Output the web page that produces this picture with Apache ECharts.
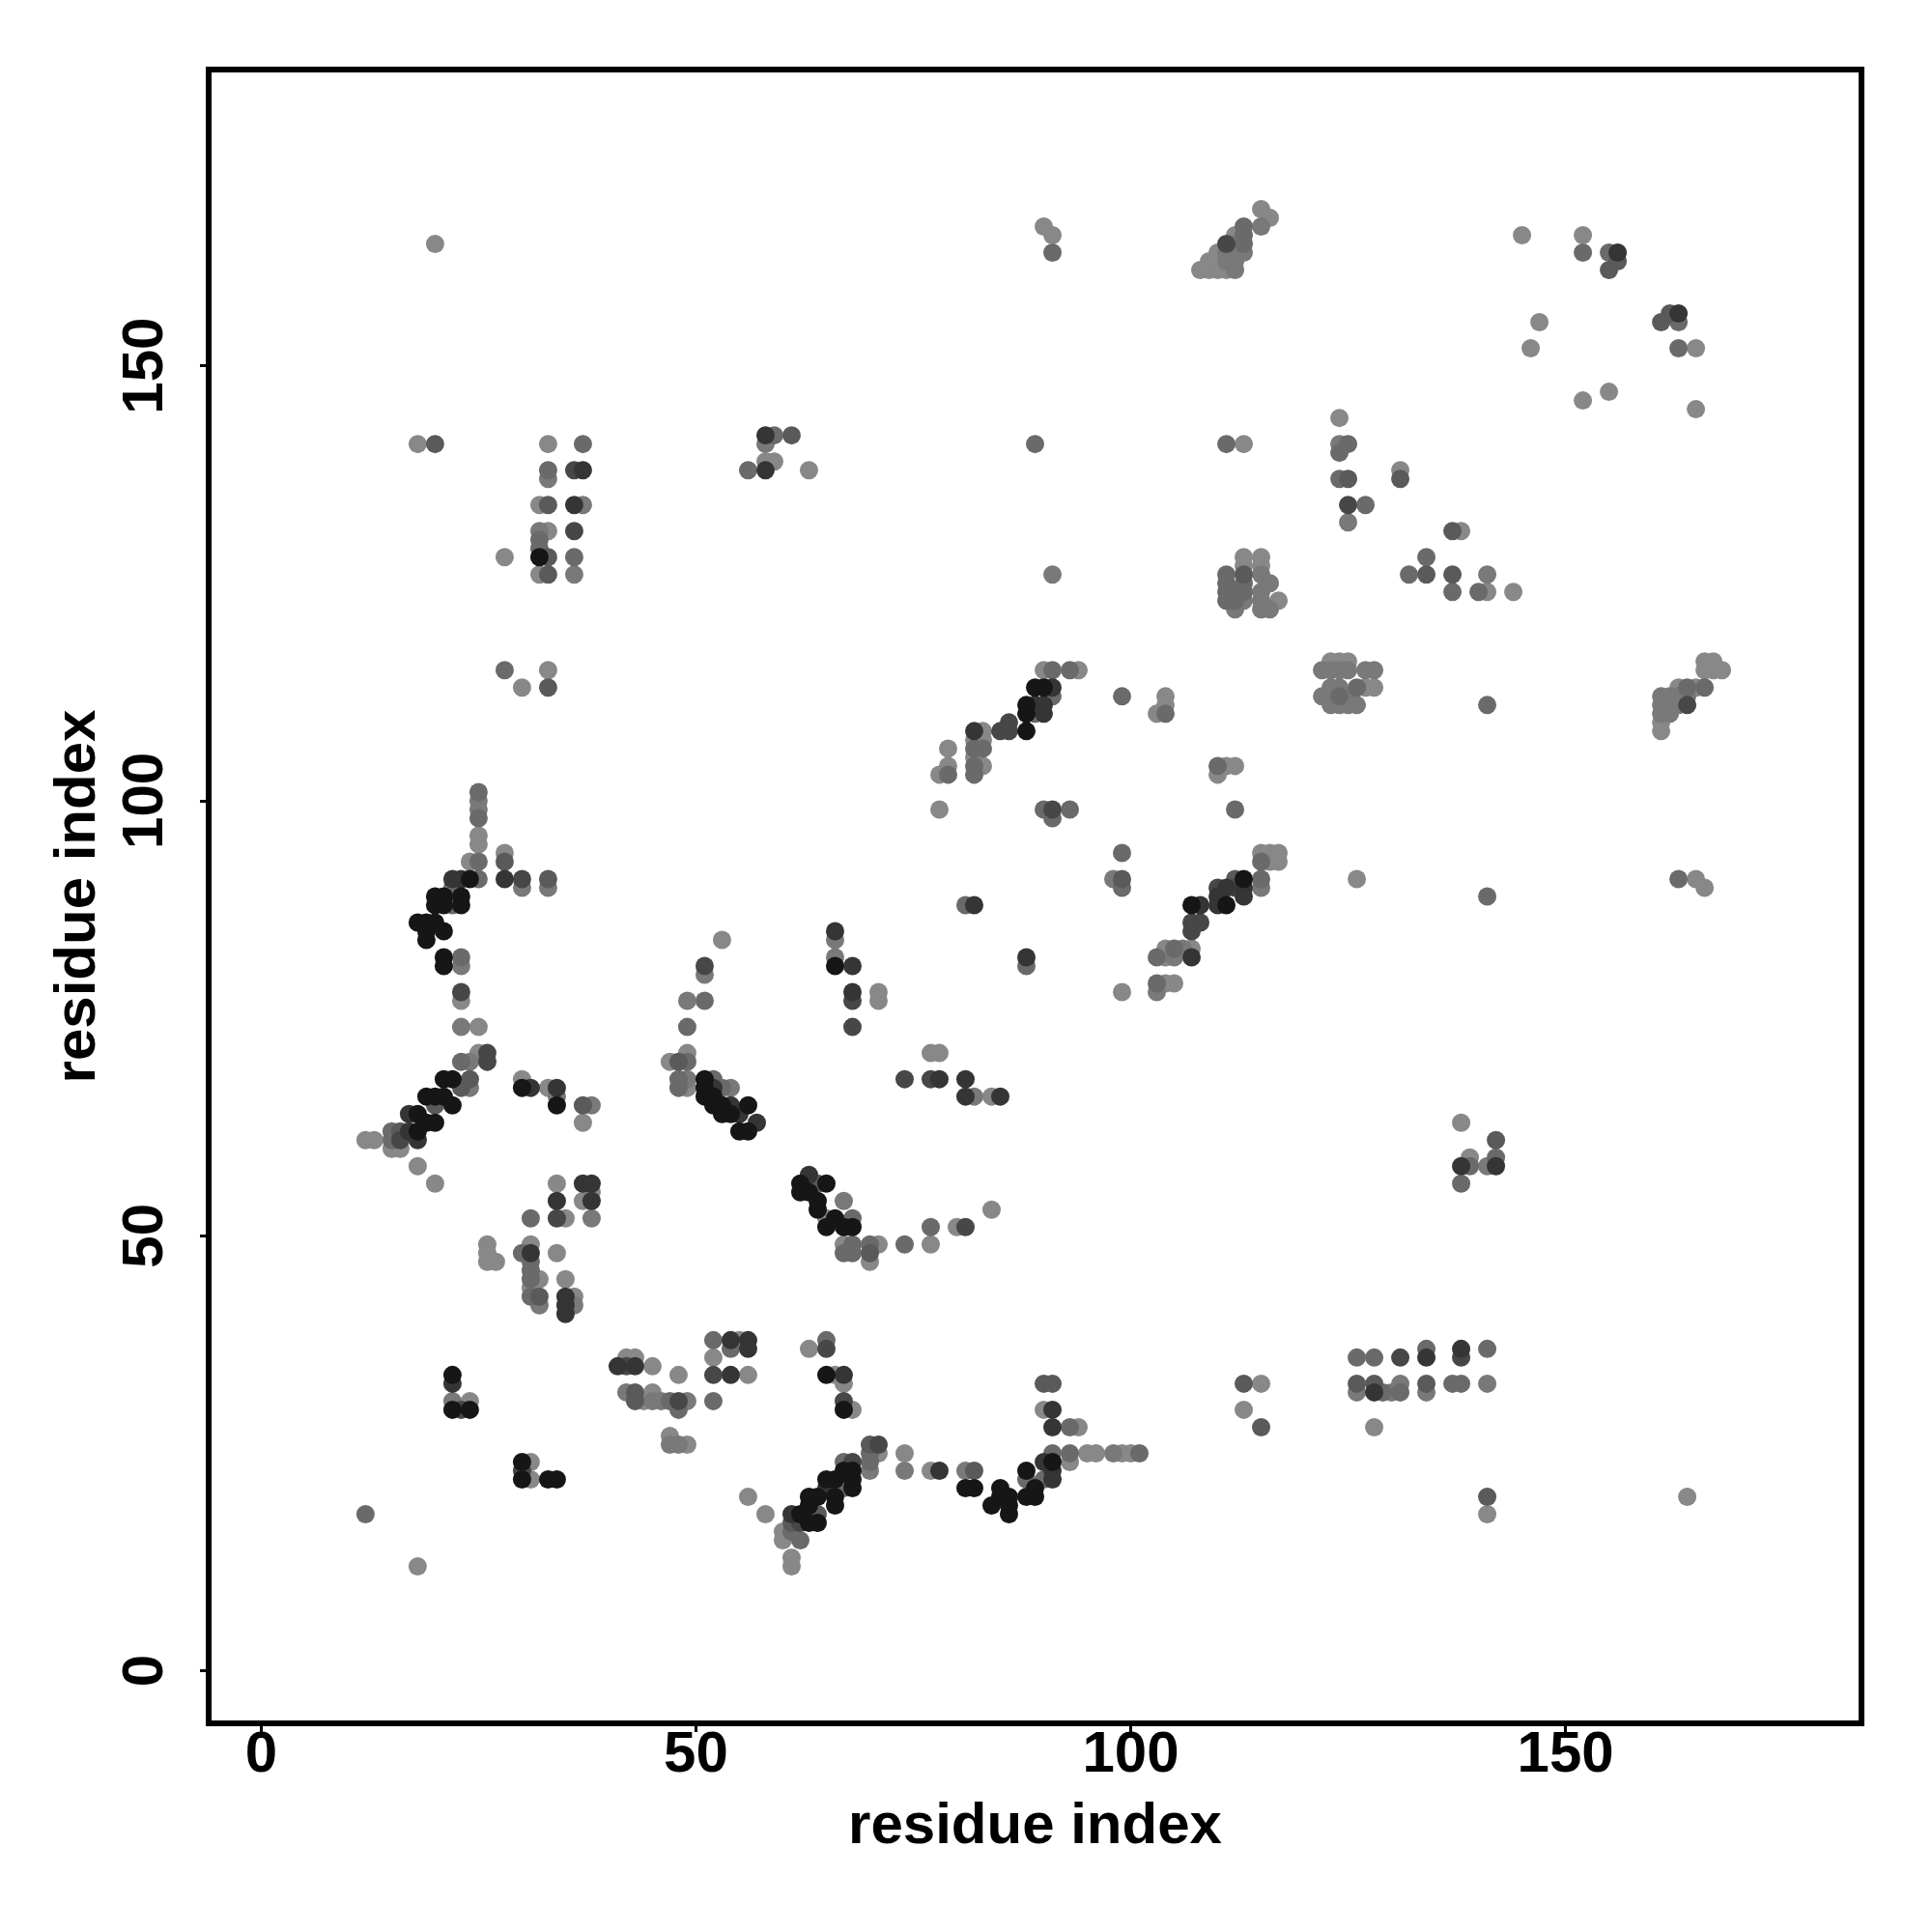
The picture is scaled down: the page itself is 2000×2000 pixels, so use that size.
<!DOCTYPE html>
<html><head><meta charset="utf-8">
<script src="https://cdn.jsdelivr.net/npm/echarts@6/dist/echarts.min.js"></script>
<style>html,body{margin:0;padding:0;background:#fff}#c{width:2000px;height:2000px}</style>
</head><body><div id="c"></div>
<script>
const tickValues = [0, 50, 100, 150];
const xTitle = 'residue index';
const yTitle = 'residue index';

const black = [
[32,128],[24,91],[23,89],[23,88],[20,89],[21,89],[20,88],[21,88],[18,86],[19,86],[20,86],[21,85],[19,85],[19,84],[21,82],[21,81],
[21,68],[22,68],[19,66],[22,65],[21,66],[20,66],[18,64],[19,63],[20,63],[18,62],
[30,67],[34,65],
[51,68],[51,67],[51,66],[52,66],[52,65],[53,65],[56,65],[53,64],[54,64],[55,62],[56,62],
[89,113],[90,113],[88,111],[88,110],[88,108],
[113,91],[111,88],[107,88],[66,81],
[22,34],[22,30],[24,30],[30,24],[30,22],[33,22],[34,22],[65,34],
[62,56],[62,55],[63,55],[65,56],[64,54],[64,53],[65,51],[66,52],[67,51],[68,51],
[67,30],
[67,23],[68,23],[68,22],[68,21],[66,22],[66,20],[66,19],
[81,21],[82,21],[85,21],[84,19],[85,20],[86,20],[86,19],[86,18],
[88,23],[88,20],[89,20],[89,21],[91,24],
[62,18],[63,19],[64,20],[65,22],[63,20],[64,17],[63,17]
];
const dark = [
[37,138],[36,134],[58,142],[58,138],[156,163],[163,156],
[28,91],[22,91],[23,91],[17,64],[17,62],[31,67],[34,67],[52,67],[54,65],[55,64],[57,63],
[91,113],[89,111],[90,111],[90,110],[82,108],[113,90],[113,89],[111,90],[110,89],[110,88],[108,88],[107,82],[66,85],[68,81],[68,78],[82,88],[88,82],[78,68],[81,68],[81,66],[85,66],
[18,61],[37,56],[38,56],[34,54],[38,54],[31,48],[35,43],[35,42],[35,41],[22,33],[41,35],[43,35],[54,38],[56,38],[56,37],[54,34],[63,57],[61,18],[65,21],
[67,34],[91,30],[91,28],[78,23],[90,24],[91,23],[91,22],
[138,58],[142,58],[134,36],[138,37],[128,32]
];
const darkGray = [
[36,138],[36,131],[125,134],[30,91],[23,78],[26,71],[26,70],[51,81],
[86,109],[85,108],[86,108],[91,99],[112,90],[110,90],[108,86],[107,86],[107,85],[68,77],[68,74],[74,68],[77,68],
[111,164],[164,111],
[16,61],[34,52],[23,30],[30,23],[42,35],[48,31],[52,34],[65,37],[62,17],
[81,51],[67,31],[71,26],[68,24],[131,36],[138,36]
];
const gray = [
[20,141],[33,134],[33,128],[33,126],[61,142],[113,126],
[156,162],[155,161],[161,155],[162,156],[125,137],[131,137],[137,131],[134,126],[137,126],
[33,113],[28,93],[33,91],[24,68],[23,67],[20,65],[16,62],[37,65],[48,70],
[99,91],[112,91],
[32,43],[43,32],[43,31],[64,56],[64,18],[61,17],
[90,33],[91,33],[113,33],[115,28],[70,26],[70,48],[82,23],
[142,61],[126,33],[128,33],[134,33],[141,20]
];
const midGray = [
[37,141],[33,138],[32,130],[32,129],[36,128],[59,142],[56,138],
[91,163],[113,166],[113,165],[113,164],[89,141],[111,141],[111,126],[111,125],[111,124],[111,123],[112,124],[113,125],[113,124],[112,123],
[152,163],[155,163],[163,155],[163,152],[124,140],[125,141],[124,137],[127,134],[134,128],[132,126],[137,124],[140,124],
[28,115],[25,101],[25,98],[25,93],[25,91],[22,90],[22,88],[23,82],[23,70],[15,62],[51,77],[49,74],[49,70],[48,68],[48,67],[52,68],[53,67],
[91,115],[93,115],[91,112],[89,110],[82,106],[83,106],[82,104],[82,103],[79,103],[90,99],[91,98],[93,99],[99,112],[104,110],[110,104],[112,99],[99,94],[99,90],[115,93],[115,91],[105,83],[103,82],[103,79],[81,88],[88,81],
[126,113],[124,112],[141,111],[164,113],[166,113],[141,89],[163,91],
[15,61],[31,52],[30,48],[31,47],[31,46],[31,45],[31,43],[12,18],[47,31],[48,30],[52,38],[54,37],[52,31],[65,38],[61,16],[62,15],
[68,52],[68,49],[67,48],[68,48],[70,49],[74,49],[77,51],[93,28],[70,25],[70,24],[67,24],[67,21],[88,22],[90,22],[91,25],[93,25],[101,25],
[139,58],[142,59],[138,56],[126,36],[128,36],[134,37],[141,37],[129,32],[131,32],[137,33],[138,33]
];
const lightGray = [
[33,137],[37,134],[32,131],[36,126],[58,141],
[115,166],[113,163],[112,161],[112,162],[111,162],[91,126],[113,123],[112,122],[115,126],[116,125],[115,124],[115,122],[116,122],[115,123],[111,163],[112,164],
[124,141],[125,132],[141,126],
[25,100],[25,99],[30,90],[33,90],[23,81],[23,74],[24,70],[24,67],[34,66],[38,65],[51,80],[49,77],[49,68],[54,67],
[98,91],[115,90],[106,83],[105,82],[103,78],[66,84],[66,82],[82,66],
[122,115],[123,115],[124,115],[125,115],[127,115],[128,115],[123,113],[124,113],[122,112],[123,112],[125,112],[123,111],[124,111],[125,111],[126,111],
[161,112],[162,112],[163,112],[164,112],[161,111],[162,111],[163,111],[161,110],[162,110],
[38,52],[32,42],[36,42],[22,31],[42,32],[45,31],[46,31],[49,31],[47,26],[48,26],
[67,54],[70,23],[74,23],[81,23],[98,25],
[141,58],[126,32],[130,32],[131,33],[134,32],[141,33]
];
const palest = [
[20,164],[18,141],[33,141],[32,134],[33,131],[28,128],[32,126],[58,139],[59,139],[63,138],
[90,166],[91,165],[115,168],[116,167],[112,165],[110,163],[109,162],[108,161],[109,161],[110,161],[111,161],[110,162],[112,163],[113,141],[113,128],[115,128],[115,127],[117,123],[113,127],
[145,165],[152,165],[147,155],[146,152],[165,152],[152,146],[155,147],[165,145],[124,144],[131,138],[138,131],[141,124],[144,124],
[33,115],[30,113],[25,96],[25,95],[24,93],[28,94],[23,77],[25,74],[25,71],[12,61],[13,61],[30,68],[33,67],[37,63],[53,84],[49,71],[47,70],[49,67],
[90,115],[94,115],[83,108],[82,107],[83,107],[82,105],[83,104],[79,106],[79,104],[78,103],[78,99],[104,112],[104,111],[103,110],[111,104],[112,104],[110,103],[115,94],[116,94],[117,94],[116,93],[117,93],[107,83],[104,82],[104,83],[104,79],[105,79],[99,78],[71,78],[71,77],[77,71],[78,71],[84,66],
[127,113],[128,113],[123,116],[124,116],[125,116],
[166,115],[167,115],[168,115],[165,113],[163,113],[161,109],[161,108],[166,116],[167,116],
[126,91],[165,91],[166,90],[138,63],
[15,60],[16,60],[18,58],[20,56],[34,56],[37,54],[38,55],[35,52],[26,49],[26,48],[26,47],[27,47],[31,49],[34,48],[32,45],[31,44],[35,45],[36,43],[24,31],[31,24],[31,22],[18,12],[42,36],[43,36],[45,35],[48,34],[44,31],[45,32],[47,27],[49,26],[55,38],[52,36],[56,34],[63,37],[65,52],[56,20],[58,18],[60,16],[60,15],[61,13],[61,12],
[67,49],[71,49],[70,47],[77,49],[80,51],[84,53],[66,34],[67,33],[68,30],[90,30],[94,28],[115,33],[113,30],[71,25],[74,25],[77,23],[93,24],[95,25],[96,25],[99,25],[100,25],
[139,59],[128,28],[141,18],[164,20]
];

const layers = [
  {data: palest, color: '#888888'},
  {data: lightGray, color: '#797979'},
  {data: midGray, color: '#6a6a6a'},
  {data: gray, color: '#5a5a5a'},
  {data: darkGray, color: '#474747'},
  {data: dark, color: '#353535'},
  {data: black, color: '#161616'}
];

const font = 'Liberation Sans, Arial, Helvetica, sans-serif';
const chart = echarts.init(document.getElementById('c'), null, {renderer: 'canvas'});
const axisCommon = {
  type: 'value', min: -6.04, max: 184.04,
  splitLine: {show: false},
  axisLine: {show: false, onZero: false},
  axisTick: {show: true, inside: false, customValues: tickValues, length: 9, lineStyle: {color: '#000', width: 3}},
  nameLocation: 'middle',
  nameTextStyle: {fontSize: 60, fontWeight: 'bold', fontFamily: font, color: '#000'}
};
chart.setOption({
  animation: false,
  backgroundColor: '#fff',
  grid: {left: 216, top: 72, width: 1711, height: 1712, show: true, borderColor: '#000', borderWidth: 6, backgroundColor: 'transparent'},
  xAxis: Object.assign({}, axisCommon, {
    position: 'bottom',
    name: xTitle, nameGap: 77,
    axisLabel: {customValues: tickValues, fontSize: 60, fontWeight: 'bold', fontFamily: font, color: '#000', margin: 3}
  }),
  yAxis: Object.assign({}, axisCommon, {
    position: 'left',
    name: yTitle, nameGap: 105,
    axisLabel: {customValues: tickValues, fontSize: 60, fontWeight: 'bold', fontFamily: font, color: '#000', margin: 35, rotate: 90}
  }),
  series: layers.map(l => ({
    type: 'scatter', data: l.data, symbol: 'circle', symbolSize: 19,
    itemStyle: {color: l.color, opacity: 1},
    emphasis: {disabled: true}, silent: true
  }))
});
</script>
</body></html>
